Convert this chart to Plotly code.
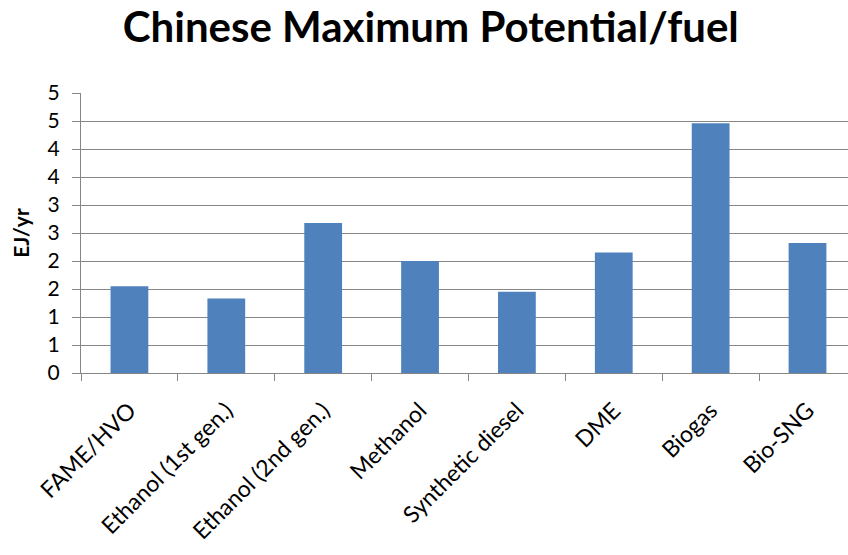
import plotly.graph_objects as go

categories = ["FAME/HVO", "Ethanol (1st gen.)", "Ethanol (2nd gen.)", "Methanol",
              "Synthetic diesel", "DME", "Biogas", "Bio-SNG"]
values = [1.55, 1.33, 2.68, 2.0, 1.45, 2.15, 4.46, 2.32]
tick_vals = [0, 0.5, 1, 1.5, 2, 2.5, 3, 3.5, 4, 4.5, 5]
tick_text = ["0", "1", "1", "2", "2", "3", "3", "4", "4", "5", "5"]

fig = go.Figure(go.Bar(x=categories, y=values, marker_color="#4F81BD",
                       marker_line_width=0, width=0.39))

fig.update_layout(
    width=848, height=555,
    margin=dict(l=81, r=0, t=93, b=182),
    paper_bgcolor="white", plot_bgcolor="white",
    title=dict(text="<b>Chinese Maximum Potential/fuel</b>", x=0.508, xanchor="center",
               y=0.95, yanchor="middle",
               font=dict(family="Lato", size=42, color="black")),
    font=dict(family="Lato", color="black"),
    showlegend=False,
)
fig.update_xaxes(range=[-0.5, 7.418], tickangle=-45, tickson="boundaries",
                 ticks="outside", ticklen=7, tickcolor="#868686",
                 showline=True, linecolor="#868686", linewidth=1,
                 ticklabelstandoff=14,
                 tickfont=dict(family="Lato", size=23, color="black"))
fig.update_yaxes(range=[0, 5], tickvals=tick_vals, ticktext=tick_text,
                 ticks="outside", ticklen=8, tickcolor="#868686",
                 showline=True, linecolor="#868686", linewidth=1,
                 showgrid=True, gridcolor="#868686", gridwidth=1,
                 zeroline=False, ticklabelstandoff=8,
                 tickfont=dict(family="Lato", size=21, color="black"),
                 title=dict(text="<b>EJ/yr</b>", font=dict(family="Lato", size=21, color="black"),
                            standoff=12))

fig.write_html("out.html")
